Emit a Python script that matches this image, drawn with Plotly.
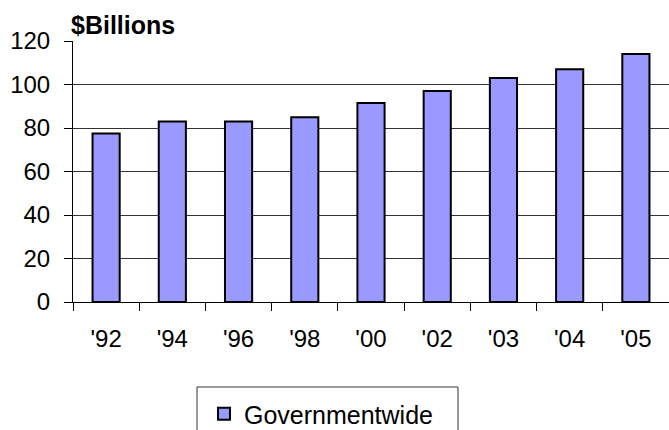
import plotly.graph_objects as go

years = ["'92", "'94", "'96", "'98", "'00", "'02", "'03", "'04", "'05"]
spending = [77.5, 83, 83, 85, 91.5, 97, 103, 107, 114]
series_name = "Governmentwide"
y_title = "$Billions"

FONT = "Liberation Sans, Arial, sans-serif"

fig = go.Figure()
fig.add_trace(go.Bar(
    x=years, y=spending, name=series_name,
    marker=dict(color="#9999FF", line=dict(color="#000000", width=2)),
    width=0.41,
    showlegend=True,
))

W, H = 669, 430
L, R, T, B = 73, 0, 41, 128
pw = W - L - R
ph = H - T - B

def px_x(x):
    return (x - L) / pw

def px_y(y):
    return (H - B - y) / ph

fig.update_layout(
    width=W, height=H,
    margin=dict(l=L, r=R, t=T, b=B, pad=0, autoexpand=False),
    paper_bgcolor="white", plot_bgcolor="white",
    font=dict(family=FONT, size=24, color="black"),
    bargap=0.59,
    showlegend=True,
    legend=dict(
        x=px_x(204), y=px_y(391), xanchor="left", yanchor="top",
        bgcolor="rgba(0,0,0,0)", borderwidth=0,
        font=dict(family=FONT, size=25, color="black"),
    ),
    xaxis=dict(
        type="category",
        showline=True, linecolor="black", linewidth=1,
        ticks="outside", tickson="boundaries", ticklen=8, tickcolor="black",
        tickfont=dict(family=FONT, size=24, color="black"),
        ticklabelstandoff=15,
        showgrid=False,
    ),
    yaxis=dict(
        range=[0, 120], tickvals=[0, 20, 40, 60, 80, 100, 120],
        showline=True, linecolor="black", linewidth=1,
        ticks="outside", ticklen=8, tickcolor="black",
        tickfont=dict(family=FONT, size=24, color="black"),
        ticklabelstandoff=9,
        showgrid=True, gridcolor="#333333", gridwidth=1,
        zeroline=False,
    ),
    shapes=[dict(
        type="rect", xref="paper", yref="paper",
        x0=px_x(197), x1=px_x(458), y0=px_y(387), y1=px_y(434),
        line=dict(color="#333333", width=1), fillcolor="rgba(0,0,0,0)",
    )],
    annotations=[dict(
        text="<b>" + y_title + "</b>", xref="paper", yref="paper",
        x=px_x(69), y=px_y(25), xanchor="left", yanchor="middle",
        showarrow=False, font=dict(family=FONT, size=25, color="black"),
    )],
)

fig.write_html("out.html", config={"displayModeBar": False},
               post_script="document.body.style.margin='0';")
